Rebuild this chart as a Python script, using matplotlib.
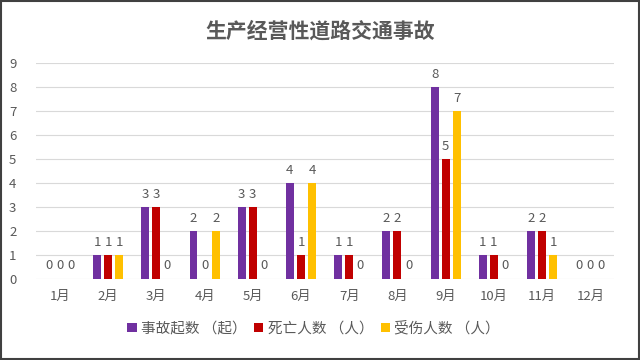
import matplotlib.pyplot as plt
import numpy as np
from matplotlib.patches import Rectangle

plt.rcParams['font.family'] = ['Noto Sans CJK SC', 'DejaVu Sans']

months = ['1月', '2月', '3月', '4月', '5月', '6月', '7月', '8月', '9月', '10月', '11月', '12月']
accidents = [0, 1, 3, 2, 3, 4, 1, 2, 8, 1, 2, 0]
deaths = [0, 1, 3, 0, 3, 1, 1, 2, 5, 1, 2, 0]
injuries = [0, 1, 0, 2, 0, 4, 0, 0, 7, 0, 1, 0]
series_names = ['事故起数 （起）', '死亡人数 （人）', '受伤人数 （人）']
colors = ['#7030A0', '#C00000', '#FFC000']

fig = plt.figure(figsize=(6.4, 3.6), dpi=100)
ax = fig.add_axes([0.056, 0.225, 0.904, 0.6])

x = np.arange(len(months))
w = 0.23
for i, (vals, name, c) in enumerate(zip([accidents, deaths, injuries], series_names, colors)):
    pos = x + (i - 1) * w
    ax.bar(pos, vals, width=w * 0.72, color=c, label=name, zorder=3)
    for xp, v in zip(pos, vals):
        ax.annotate(str(v), (xp, v), xytext=(0, 5 if v == 0 else 4), textcoords='offset points',
                    ha='center', va='bottom', fontsize=9.5, color='#595959')

ax.set_xlim(-0.5, len(months) - 0.5)
ax.set_ylim(0, 9)
ax.set_yticks(range(10))
ax.set_xticks(x)
ax.set_xticklabels(months)
ax.tick_params(axis='both', length=0, labelsize=9.5, colors='#595959')
ax.tick_params(axis='x', pad=8)
ax.tick_params(axis='y', pad=14)
ax.grid(axis='y', color='#D9D9D9', linewidth=0.8, zorder=0)
for s in ax.spines.values():
    s.set_visible(False)

fig.text(0.5, 0.915, '生产经营性道路交通事故', ha='center', va='center',
         fontsize=15, fontweight='bold', color='#595959')

leg = fig.legend(loc='center', bbox_to_anchor=(0.49, 0.088), ncol=3, frameon=False,
                 fontsize=10.5, handlelength=0.65, handleheight=0.65, handletextpad=0.3,
                 columnspacing=0.5)
for t in leg.get_texts():
    t.set_color('#595959')

fig.patches.append(Rectangle((0.002, 0.003), 0.996, 0.994, transform=fig.transFigure,
                             fill=False, edgecolor='#404040', linewidth=1.5))

fig.savefig('out.png', dpi=100)
